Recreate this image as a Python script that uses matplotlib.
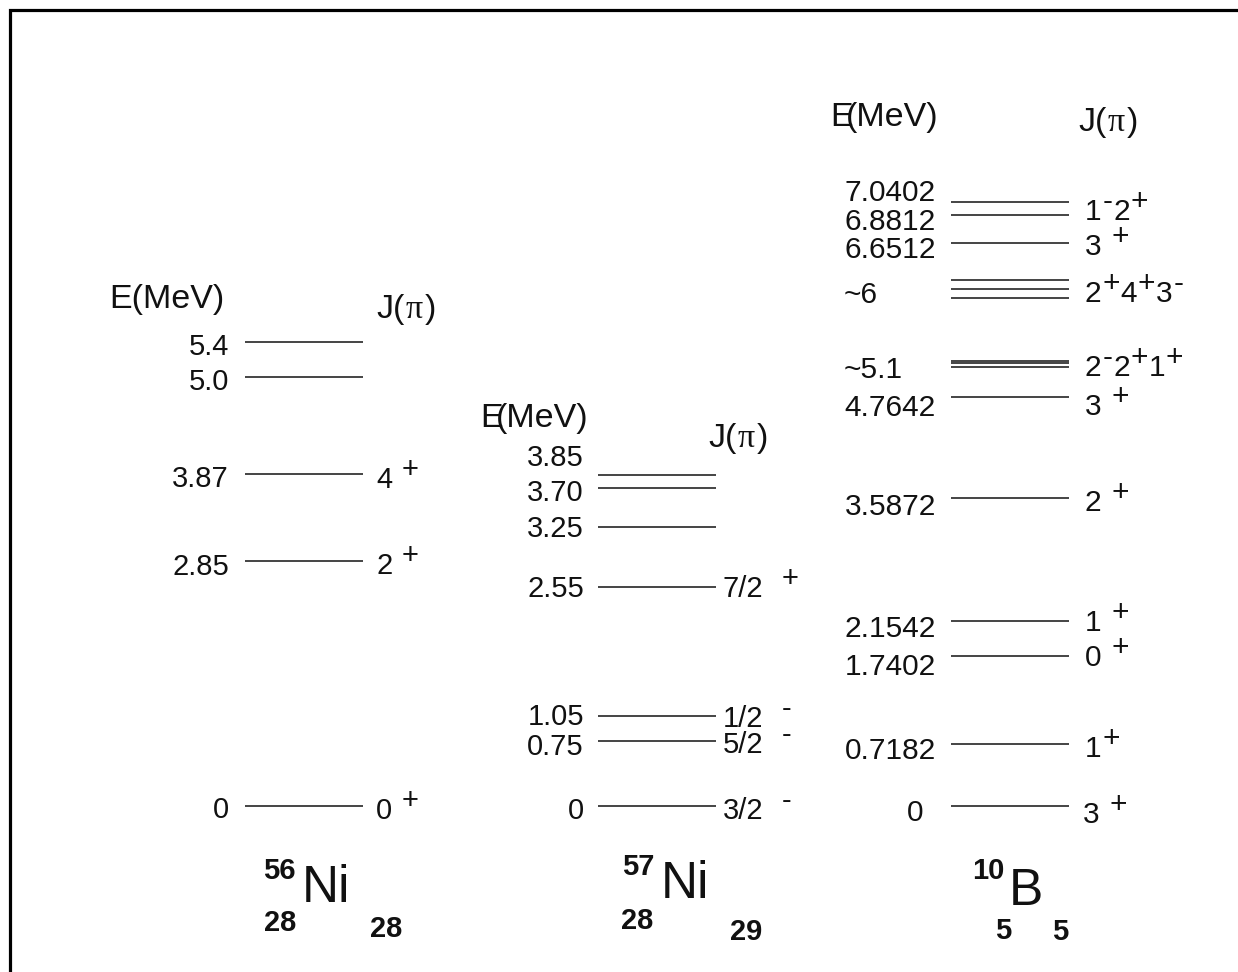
import matplotlib
matplotlib.use("Agg")
import matplotlib.pyplot as plt
from matplotlib.lines import Line2D

# ---------------- data ----------------
ni56_levels = [0, 2.85, 3.87, 5.0, 5.4]
ni56_E_text = ["0", "2.85", "3.87", "5.0", "5.4"]
ni56_J_at = [0, 2.85, 3.87]
ni56_J_text = ["0 +", "2 +", "4 +"]

ni57_levels = [0, 0.75, 1.05, 2.55, 3.25, 3.70, 3.85]
ni57_E_text = ["0", "0.75", "1.05", "2.55", "3.25", "3.70", "3.85"]
ni57_J_at = [0, 0.75, 1.05, 2.55]
ni57_J_text = ["3/2  -", "5/2  -", "1/2  -", "7/2  +"]

b10_levels = [0, 0.7182, 1.7402, 2.1542, 3.5872, 4.7642,
              5.110, 5.164, 5.180, 5.920, 6.025, 6.127,
              6.560, 6.8812, 7.0402]
b10_E_text = ["0", "0.7182", "1.7402", "2.1542", "3.5872", "4.7642",
              "~5.1", "~6", "6.6512", "6.8812", "7.0402"]
b10_E_at = [0, 0.7182, 1.7402, 2.1542, 3.5872, 4.7642,
            5.151, 6.024, 6.560, 6.8812, 7.0402]
b10_J_at = [0, 0.7182, 1.7402, 2.1542, 3.5872, 4.7642, 5.151, 6.024, 6.560, 6.961]
b10_J_text = ["3 +", "1+", "0 +", "1 +", "2 +", "3 +", "2-2+1+", "2+4+3-", "3 +", "1-2+"]

nuclides = [("56", "Ni", "28", "28"), ("57", "Ni", "28", "29"), ("10", "B", "5", "5")]

# ---------------- layout ----------------
W, H = 1238, 972
PX0 = 805.7      # pixel row of E = 0
PPM = 85.8       # pixels per MeV
FONT = "Liberation Sans"
PT = 72.0 / 100.0  # points per pixel
INK = "#111111"

fig = plt.figure(figsize=(W / 100, H / 100), dpi=100)
ax = fig.add_axes([0, 0, 1, 1])
ax.set_xlim(0, W)
ax.set_ylim((PX0 - H) / PPM, PX0 / PPM)
ax.axis("off")


def row(p):
    """pixel row -> energy coordinate"""
    return (PX0 - p) / PPM


LINE_KW = dict(color="#1c1c1c", lw=1.15)
NUM = 21
HEAD = 24.5


def elabel(x, E, s, dy, ha="right", size=NUM):
    ax.annotate(s, xy=(x, E), xycoords="data", xytext=(0, -dy * PT),
                textcoords="offset points", ha=ha, va="center_baseline",
                fontsize=size, family=FONT, color=INK)


def chain(x, E, s, dy, size=NUM, raise_pt=7.2):
    tokens = []
    gap = 0
    cur = ""
    for ch in s:
        if ch == " ":
            if cur:
                tokens.append((cur, False, gap))
                cur = ""
                gap = 0
            gap += 1
        elif ch in "+-":
            if cur:
                tokens.append((cur, False, gap))
                cur = ""
                gap = 0
            tokens.append((ch, True, gap))
            gap = 0
        else:
            cur += ch
    if cur:
        tokens.append((cur, False, gap))
    first = ax.annotate(tokens[0][0], xy=(x, E), xycoords="data",
                        xytext=(0, -dy * PT), textcoords="offset points",
                        ha="left", va="center_baseline", fontsize=size,
                        family=FONT, color=INK)
    prev = first
    for txt, raised, g in tokens[1:]:
        prev = ax.annotate(txt, xy=(1, 0), xycoords=(prev, first),
                           xytext=(g * 0.30 * size + 0.5, raise_pt if raised else 0),
                           textcoords="offset points", ha="left", va="bottom",
                           fontsize=size, family=FONT, color=INK)


def header(xe, ye, xj, yj, overlap=False):
    if overlap:
        e = ax.text(xe, row(ye), "E", ha="left", va="center_baseline",
                    fontsize=HEAD, family=FONT, color=INK)
        ax.annotate("(MeV)", xy=(1, 0), xycoords=e, xytext=(-5, 0),
                    textcoords="offset points", ha="left", va="bottom",
                    fontsize=HEAD, family=FONT, color=INK)
    else:
        ax.text(xe, row(ye), "E(MeV)", ha="left", va="center_baseline",
                fontsize=HEAD, family=FONT, color=INK)
    j = ax.text(xj, row(yj), "J(", ha="left", va="center_baseline",
                fontsize=HEAD, family=FONT, color=INK)
    p = ax.annotate("\u03c0", xy=(1, 0), xycoords=j, xytext=(1, 0),
                    textcoords="offset points", ha="left", va="bottom",
                    fontsize=HEAD, family="Liberation Serif", color=INK)
    ax.annotate(")", xy=(1, 0), xycoords=(p, j), xytext=(1, 0),
                textcoords="offset points", ha="left", va="bottom",
                fontsize=HEAD, family=FONT, color=INK)


# ---- 56Ni ----
ax.hlines(ni56_levels, 245, 363, **LINE_KW)
for E, s, dy in zip(ni56_levels, ni56_E_text, [1, 3, 2, 2, 2]):
    elabel(229, E, s, dy)
for E, s, dy in zip(ni56_J_at, ni56_J_text, [2, 2, 3.7]):
    chain(376, E, s, dy)
header(109, 296, 376, 306)

# ---- 57Ni ----
ax.hlines(ni57_levels, 598, 716, **LINE_KW)
for E, s, dy in zip(ni57_levels, ni57_E_text, [2, 3, -2, -0.5, -1.3, 1.7, -20.7]):
    elabel(584, E, s, dy)
for E, s, dy in zip(ni57_J_at, ni57_J_text, [2.3, 0.7, 0.7, -0.8]):
    chain(723, E, s, dy)
header(480, 415, 708, 435, overlap=True)

# ---- 10B ----
ax.hlines(b10_levels, 951, 1069, **LINE_KW)
b10_E_dy = [4.3, 4, 8, 4.7, 6, 8, 3.3, 3.5, 4, 4, -11.7]
for E, s, dy in zip(b10_E_at, b10_E_text, b10_E_dy):
    if s.startswith("~"):
        elabel(844, E, s, dy, ha="left", size=21.5)
    elif s == "0":
        elabel(923, E, s, dy, size=21.5)
    else:
        elabel(936, E, s, dy, size=21.5)
b10_J_dy = [6, 1.7, -1.3, -1.3, 2, 7, 1.3, 2, 1, 0.3]
for E, s, dy in zip(b10_J_at, b10_J_text, b10_J_dy):
    chain(1083 if (s == "3 +" and E == 0) else 1085, E, s, dy, size=21.5)
header(830, 114, 1078, 119, overlap=True)

# ---- nuclide symbols ----
nuc_pos = [
    # mass(x,y), element(left x, y), Z(x,y), N(x,y)
    ((279, 868), (302, 883), (280, 920), (386, 926)),
    ((638, 864), (661, 879), (637, 918), (746, 929)),
    ((988, 868), (1009, 886), (1003, 928), (1060, 929)),
]
for (A, el, Z, N), (pa, pe, pz, pn) in zip(nuclides, nuc_pos):
    ax.text(pa[0], row(pa[1]), A, ha="center", va="center_baseline",
            fontsize=21, fontweight="bold", family=FONT, color=INK)
    ax.text(pe[0], row(pe[1]), el, ha="left", va="center_baseline",
            fontsize=37, family=FONT, color=INK)
    ax.text(pz[0], row(pz[1]), Z, ha="center", va="center_baseline",
            fontsize=21, fontweight="bold", family=FONT, color=INK)
    ax.text(pn[0], row(pn[1]), N, ha="center", va="center_baseline",
            fontsize=21, fontweight="bold", family=FONT, color=INK)

# ---- frame (left & top edges visible) ----
fig.add_artist(Line2D([9.5 / W, 9.5 / W, 1.0], [0.0, 1 - 10 / H, 1 - 10 / H],
                      transform=fig.transFigure, color="black", lw=2.3,
                      solid_joinstyle="miter"))

fig.savefig("out.png", dpi=100, facecolor="white")
